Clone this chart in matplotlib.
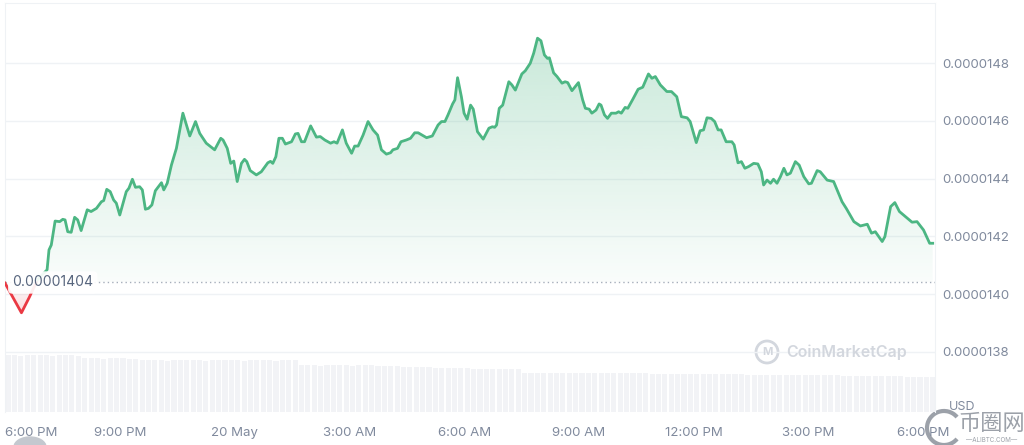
import numpy as np
import matplotlib
matplotlib.use("Agg")
import matplotlib.pyplot as plt
from matplotlib.colors import LinearSegmentedColormap
from matplotlib.patches import PathPatch, Circle, Ellipse, Arc
from matplotlib.path import Path
from matplotlib.transforms import IdentityTransform

plt.rcParams['font.family'] = ['Inter', 'DejaVu Sans']

# hours after 6:00 PM (19 May)
hours = [
    0.00, 0.20, 0.43, 0.64, 0.85,
    1.10, 1.15, 1.21, 1.31, 1.43, 1.51, 1.57, 1.64, 1.73, 1.82, 1.90, 1.99,
    2.15, 2.25, 2.39, 2.52, 2.58, 2.66, 2.75, 2.84, 2.91, 3.00, 3.17, 3.24,
    3.33, 3.41, 3.52, 3.59, 3.67, 3.75, 3.84, 3.93, 4.09, 4.15, 4.24, 4.35,
    4.48, 4.65, 4.83, 4.98, 5.09, 5.26, 5.48, 5.64, 5.70, 5.81, 5.90, 5.98,
    6.07, 6.18, 6.26, 6.32, 6.41, 6.57, 6.70, 6.87, 6.94, 7.00, 7.08, 7.16,
    7.25, 7.33, 7.49, 7.59, 7.66, 7.75, 7.83, 7.99, 8.14, 8.24, 8.36, 8.51,
    8.60, 8.68, 8.82, 8.92, 9.06, 9.14, 9.23, 9.36, 9.49, 9.62, 9.74, 9.84,
    9.97, 10.08, 10.14, 10.26, 10.35, 10.49, 10.60, 10.71, 10.80, 11.02,
    11.17, 11.32, 11.41, 11.50, 11.58, 11.70, 11.76, 11.83, 11.93, 12.00,
    12.08, 12.17, 12.24, 12.35, 12.50, 12.65, 12.74, 12.80, 12.85, 12.92,
    13.01, 13.17, 13.25, 13.34, 13.51, 13.60, 13.73, 13.82, 13.92, 14.01,
    14.10, 14.18, 14.23, 14.34, 14.43, 14.56, 14.64, 14.71, 14.82, 14.99,
    15.10, 15.17, 15.27, 15.34, 15.45, 15.53, 15.58, 15.67, 15.75, 15.85,
    15.97, 16.04, 16.11, 16.21, 16.28, 16.41, 16.55, 16.67, 16.82, 16.91,
    17.00, 17.13, 17.30, 17.42, 17.56, 17.68, 17.83, 17.91, 18.07, 18.17,
    18.26, 18.35, 18.46, 18.55, 18.64, 18.72, 18.85, 19.00, 19.06, 19.16,
    19.25, 19.34, 19.44, 19.57, 19.68, 19.77, 19.83, 19.92, 20.01, 20.09,
    20.18, 20.27, 20.36, 20.44, 20.53, 20.66, 20.76, 20.88, 21.01, 21.08,
    21.23, 21.31, 21.49, 21.66, 21.75, 21.88, 21.99, 22.19, 22.36, 22.54,
    22.65, 22.75, 22.93, 23.00, 23.15, 23.26, 23.38, 23.54, 23.71, 23.84,
    24.01, 24.17, 24.25,
]
# price in units of 1e-7 USD
price_e7 = [
    140.38, 139.90, 139.35, 139.90, 140.50,
    140.84, 141.53, 141.70, 142.53, 142.51, 142.59, 142.57, 142.16, 142.14, 142.66, 142.57, 142.20,
    142.92, 142.86, 142.97, 143.20, 143.24, 143.63, 143.55, 143.26, 143.15, 142.74, 143.55, 143.67,
    143.98, 143.70, 143.72, 143.61, 142.94, 142.97, 143.09, 143.58, 143.86, 143.61, 143.84, 144.47,
    145.05, 146.27, 145.48, 145.98, 145.57, 145.23, 145.00, 145.40, 145.34, 145.05, 144.53, 144.61,
    143.90, 144.53, 144.67, 144.59, 144.28, 144.13, 144.24, 144.55, 144.60, 144.53, 144.76, 145.40,
    145.40, 145.20, 145.28, 145.55, 145.57, 145.28, 145.28, 145.83, 145.44, 145.46, 145.34, 145.23,
    145.28, 145.23, 145.69, 145.23, 144.88, 145.13, 145.13, 145.51, 145.98, 145.69, 145.51, 145.00,
    144.85, 144.90, 145.00, 145.05, 145.28, 145.34, 145.40, 145.59, 145.59, 145.42,
    145.48, 145.86, 145.98, 145.98, 146.21, 146.59, 146.73, 147.50, 146.84, 146.27,
    146.06, 146.55, 146.41, 145.63, 145.37, 145.75, 145.80, 145.78, 145.86, 146.44,
    146.55, 147.36, 147.25, 147.07, 147.63, 147.74, 148.00, 148.35, 148.87, 148.78,
    148.29, 148.17, 148.19, 147.67, 147.54, 147.31, 147.36, 147.33, 147.05, 147.33,
    146.73, 146.44, 146.41, 146.27, 146.38, 146.59, 146.55, 146.21, 146.09, 146.27,
    146.27, 146.32, 146.27, 146.47, 146.44, 146.75, 147.10, 147.17, 147.63, 147.48,
    147.54, 147.25, 147.02, 147.02, 146.84, 146.15, 146.11, 145.98, 145.25, 145.66,
    145.69, 146.11, 146.09, 145.98, 145.69, 145.69, 145.28, 145.28, 145.17, 144.55,
    144.59, 144.36, 144.42, 144.53, 144.51, 144.24, 143.78, 143.95, 143.84, 143.98,
    143.84, 144.07, 144.36, 144.13, 144.19, 144.59, 144.47, 144.07, 143.82, 143.84,
    144.28, 144.24, 143.95, 143.90, 143.61, 143.20, 142.97, 142.51, 142.36, 142.42,
    142.11, 142.16, 141.82, 141.99, 143.03, 143.17, 142.86, 142.68, 142.49, 142.51,
    142.22, 141.76, 141.76,
]
ref_price = 0.00001404

# 10-minute volume bars (relative units)
volume = [
    5.7, 5.7, 5.6, 5.7, 5.7, 5.7, 5.7, 5.6, 5.7, 5.7, 5.7, 5.6,
    5.4, 5.4, 5.4, 5.3, 5.4, 5.4, 5.4, 5.3, 5.3,
    5.2, 5.2, 5.2, 5.2, 5.1, 5.2, 5.2, 5.2, 5.2, 5.2, 5.1, 5.2, 5.2,
    5.2, 5.2, 5.2, 5.1, 5.2, 5.2, 5.2, 5.2, 5.1, 5.2, 5.2, 5.2,
    4.7, 4.7, 4.7, 4.6, 4.7, 4.7, 4.7, 4.7, 4.6, 4.7, 4.7, 4.7,
    4.6, 4.6, 4.6, 4.6, 4.5, 4.5, 4.5, 4.5, 4.5, 4.4, 4.4, 4.4,
    4.4, 4.4, 4.4, 4.3, 4.3, 4.3, 4.3, 4.3, 4.3, 4.3, 4.3,
    3.9, 3.9, 3.9, 3.9, 3.9, 3.9, 3.9, 3.9, 3.9, 3.9, 3.9, 3.9,
    3.9, 3.9, 3.9, 3.9, 3.9, 3.9, 3.9, 3.9,
    3.8, 3.8, 3.8, 3.8, 3.8, 3.8, 3.8, 3.8, 3.8, 3.8, 3.8, 3.8,
    3.8, 3.8, 3.8,
    3.7, 3.7, 3.7, 3.7, 3.7, 3.7, 3.7, 3.7, 3.7, 3.7, 3.7, 3.7,
    3.7, 3.7, 3.7,
    3.6, 3.6, 3.6, 3.6, 3.6, 3.6, 3.6, 3.6, 3.6, 3.6,
    3.5, 3.5, 3.5, 3.5, 3.5,
]

y_ticks_e7 = [138, 140, 142, 144, 146, 148]
x_tick_hours = [0, 3, 6, 9, 12, 15, 18, 21, 24]
x_tick_labels = ["6:00 PM", "9:00 PM", "20 May", "3:00 AM", "6:00 AM",
                 "9:00 AM", "12:00 PM", "3:00 PM", "6:00 PM"]

GREEN = (76 / 255, 182 / 255, 131 / 255)
RED = (234 / 255, 57 / 255, 67 / 255)
GRAY = '#808a9d'
LIGHT = '#eff2f5'

t = np.array(hours)
p = np.array(price_e7) * 1e-7
vol = np.array(volume)
vol_t = np.arange(len(vol)) / 6 + 1 / 12
xmax = 24.31
ymin, ymax = 135.91e-7, 150.09e-7


def split_at(x, y, base):
    xs, ys = [x[0]], [y[0]]
    for i in range(1, len(x)):
        if (y[i - 1] - base) * (y[i] - base) < 0:
            f = (base - y[i - 1]) / (y[i] - y[i - 1])
            xs.append(x[i - 1] + f * (x[i] - x[i - 1]))
            ys.append(base)
        xs.append(x[i])
        ys.append(y[i])
    return np.array(xs), np.array(ys)


def gradient_fill(ax, x, y, base, color, above, a_lo, a_hi):
    if above:
        coll = ax.fill_between(x, y, base, where=y >= base, interpolate=True,
                               color='none', lw=0)
        lo, hi = base, y.max()
        cols = [color + (a_lo,), color + (a_hi,)]
    else:
        coll = ax.fill_between(x, y, base, where=y <= base, interpolate=True,
                               color='none', lw=0)
        lo, hi = y.min(), base
        cols = [color + (a_hi,), color + (a_lo,)]
    paths = coll.get_paths()
    if not paths:
        return
    clip = PathPatch(Path.make_compound_path(*paths), transform=ax.transData,
                     facecolor='none', edgecolor='none')
    ax.add_patch(clip)
    cmap = LinearSegmentedColormap.from_list('grad', cols)
    grad = np.linspace(0, 1, 256).reshape(-1, 1)
    im = ax.imshow(grad, extent=[x.min(), x.max(), lo, hi], origin='lower',
                   aspect='auto', cmap=cmap, zorder=1, interpolation='bicubic')
    im.set_clip_path(clip)


fig = plt.figure(figsize=(10.24, 4.45), dpi=100)
ax = fig.add_axes([5 / 1024, 1 - 412 / 445, 930 / 1024, 409 / 445])
vax = ax.twinx()
ax.set_zorder(2)
vax.set_zorder(1)
ax.patch.set_visible(False)

vax.bar(vol_t, vol, width=1 / 6 * 0.8, color='#f2f3f6', linewidth=0)
vax.set_ylim(0, 40.9)
vax.set_axis_off()

xs, ys = split_at(t, p, ref_price)
gradient_fill(ax, xs, ys, ref_price, GREEN, True, 0.03, 0.30)
gradient_fill(ax, xs, ys, ref_price, RED, False, 0.03, 0.18)
ax.plot(xs, np.where(ys >= ref_price, ys, np.nan), color=GREEN, lw=2, zorder=3,
        solid_joinstyle='round')
ax.plot(xs, np.where(ys <= ref_price, ys, np.nan), color=RED, lw=2, zorder=3,
        solid_joinstyle='round')

ax.axhline(ref_price, color='#a6aebb', lw=1, ls=(0, (1, 2.2)), zorder=2)
ax.text(0.19, ref_price, "0.00001404", ha='left', va='center', fontsize=10,
        color='#58667e', zorder=5,
        bbox=dict(boxstyle='round,pad=0.3', fc='white', ec='none', alpha=0.92))

ax.set_xlim(0, xmax)
ax.set_ylim(ymin, ymax)
ax.yaxis.tick_right()
ax.set_yticks([v * 1e-7 for v in y_ticks_e7])
ax.set_yticklabels([f"{v * 1e-7:.7f}" for v in y_ticks_e7])
ax.set_xticks(x_tick_hours)
ax.set_xticklabels(x_tick_labels)
ax.get_xticklabels()[0].set_ha('left')
ax.tick_params(axis='y', length=0, pad=5, labelsize=9.5, labelcolor=GRAY)
ax.tick_params(axis='x', length=0, pad=11, labelsize=9.5, labelcolor=GRAY)
ax.grid(axis='y', color=LIGHT, lw=1, zorder=0)
ax.set_axisbelow(True)
ax.spines['bottom'].set_visible(False)
for s in ('top', 'left', 'right'):
    ax.spines[s].set_color(LIGHT)

# CoinMarketCap watermark
wm = '#d3d7de'
fig.add_artist(Circle((767, 445 - 352), 11, fill=False, lw=2, ec=wm,
                      transform=IdentityTransform()))
fig.text(767 / 1024, 1 - 352 / 445, "M", ha='center', va='center', fontsize=8,
         fontweight='bold', color=wm)
fig.text(786 / 1024, 1 - 352 / 445, "CoinMarketCap", ha='left', va='center',
         fontsize=11.5, fontweight='semibold', color=wm)

# bottom-right site watermark
fig.text(949 / 1024, 1 - 407 / 445, "USD", ha='left', va='center', fontsize=9,
         color=GRAY)
fig.add_artist(Arc((944, 445 - 428), 34, 34, theta1=40, theta2=320, lw=3,
                   color='#9ca1a9', transform=IdentityTransform()))
fig.text(992 / 1024, 1 - 424 / 445, "币圈网", ha='center', va='center',
         fontsize=16, color='#9ca1a9', family=['Noto Sans CJK SC', 'DejaVu Sans'])
fig.text(992 / 1024, 1 - 440 / 445, "—ALIBTC.COM—", ha='center', va='center',
         fontsize=4.5, color='#9ca1a9')

# partially visible control at bottom left
fig.add_artist(Ellipse((30 / 1024, 1 - 447 / 445), 32 / 1024, 20 / 445,
                       color='#c4c8cf', transform=fig.transFigure))

fig.savefig("out.png", dpi=100, facecolor='white')
